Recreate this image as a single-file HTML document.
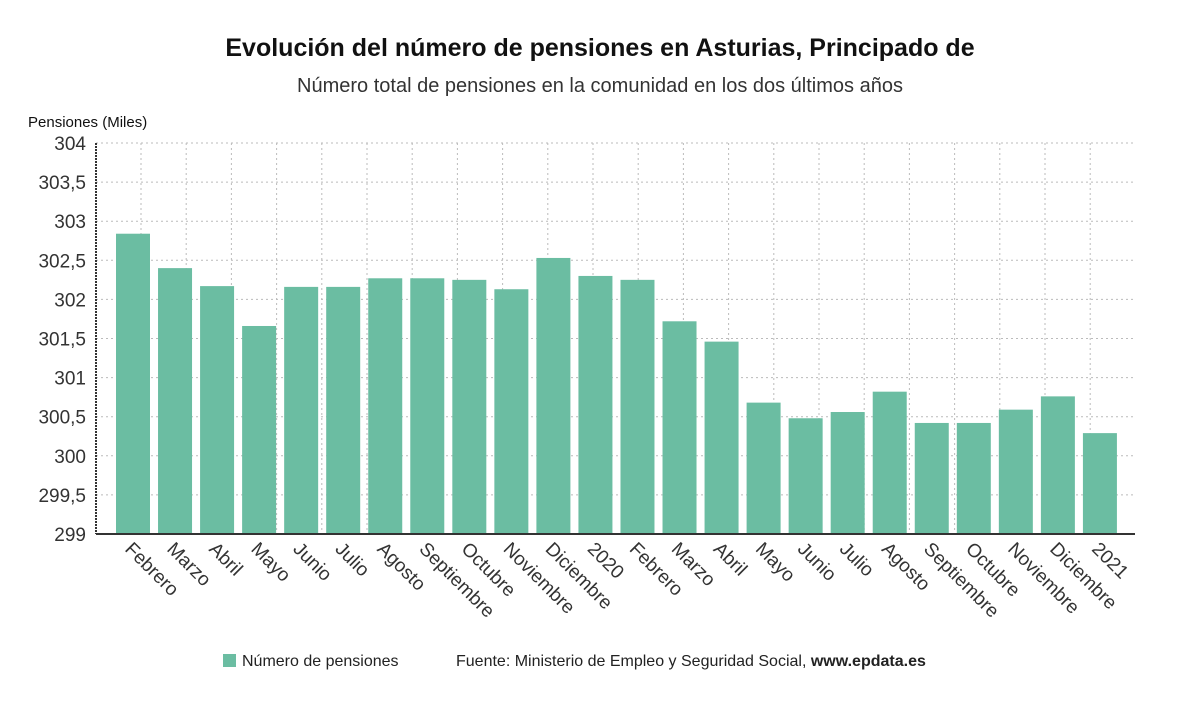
<!DOCTYPE html>
<html><head><meta charset="utf-8">
<style>
body{margin:0;background:#fff;width:1200px;height:705px;overflow:hidden;font-family:"Liberation Sans",sans-serif;}
svg text{font-family:"Liberation Sans",sans-serif;}
</style></head>
<body>
<svg id="chart" width="1200" height="705">
<text x="600" y="56" text-anchor="middle" font-size="25" font-weight="bold" fill="#111">Evolución del número de pensiones en Asturias, Principado de</text>
<text x="600" y="92" text-anchor="middle" font-size="20" fill="#333">Número total de pensiones en la comunidad en los dos últimos años</text>
<text x="28" y="127" font-size="15" fill="#111">Pensiones (Miles)</text>
<g id="grid"></g><g id="bars"></g><g id="axes"></g>
<g>
<rect x="223" y="654" width="13" height="13" fill="#6bbda2"></rect>
<text x="242" y="666" font-size="16" fill="#222">Número de pensiones</text>
<text x="456" y="666" font-size="16" fill="#222">Fuente: Ministerio de Empleo y Seguridad Social, <tspan font-weight="bold">www.epdata.es</tspan></text>
</g>
</svg>
<script>
const categories=["Febrero","Marzo","Abril","Mayo","Junio","Julio","Agosto","Septiembre","Octubre","Noviembre","Diciembre","2020","Febrero","Marzo","Abril","Mayo","Junio","Julio","Agosto","Septiembre","Octubre","Noviembre","Diciembre","2021"];
const values=[302.84,302.40,302.17,301.66,302.16,302.16,302.27,302.27,302.25,302.13,302.53,302.30,302.25,301.72,301.46,300.68,300.48,300.56,300.82,300.42,300.42,300.59,300.76,300.29];
const yTicks=[299,299.5,300,300.5,301,301.5,302,302.5,303,303.5,304];
const yTickLabels=["299","299,5","300","300,5","301","301,5","302","302,5","303","303,5","304"];
const NS="http://www.w3.org/2000/svg";
const L=96,R=1135,T=143,B=534,ymin=299,ymax=304;
const y=v=>B-(v-ymin)/(ymax-ymin)*(B-T);
const x=i=>112+i*42.04;
function mk(tag,attrs,parent){const e=document.createElementNS(NS,tag);for(const k in attrs)e.setAttribute(k,attrs[k]);parent.appendChild(e);return e;}
const grid=document.getElementById('grid'),bars=document.getElementById('bars'),axes=document.getElementById('axes');
yTicks.forEach((t,i)=>{
 const g=mk('line',{x1:L,x2:R,y1:y(t),y2:y(t),stroke:'#bbb','stroke-dasharray':'2,3'},grid);
 
 
 const tx=mk('text',{x:86,y:y(t)+7,'text-anchor':'end','font-size':19,fill:'#333'},axes);
 tx.textContent=yTickLabels[i];
 
 
});
for(let gx=141;gx<R;gx+=45.2){
 const g=mk('line',{x1:gx,x2:gx,y1:T,y2:B,stroke:'#bbb','stroke-dasharray':'2,3'},grid);
 
 
}
values.forEach((v,i)=>{
 const r=mk('rect',{x:x(i)+4,y:y(v),width:34,height:B-y(v),fill:'#6bbda2'},bars);
 
 
 const lx=x(i)+12, ly=550;
 const t=mk('text',{x:lx,y:ly,'text-anchor':'start','font-size':19,fill:'#333',transform:`rotate(45 ${lx} ${ly})`},axes);
 t.textContent=categories[i];
 
 
});
const ya=mk('line',{x1:L,x2:L,y1:T,y2:B,stroke:'#333','stroke-width':2,'stroke-dasharray':'2,1'},axes);


const xa=mk('line',{x1:L,x2:R,y1:B,y2:B,stroke:'#333','stroke-width':2},axes);


</script>
</body></html>
